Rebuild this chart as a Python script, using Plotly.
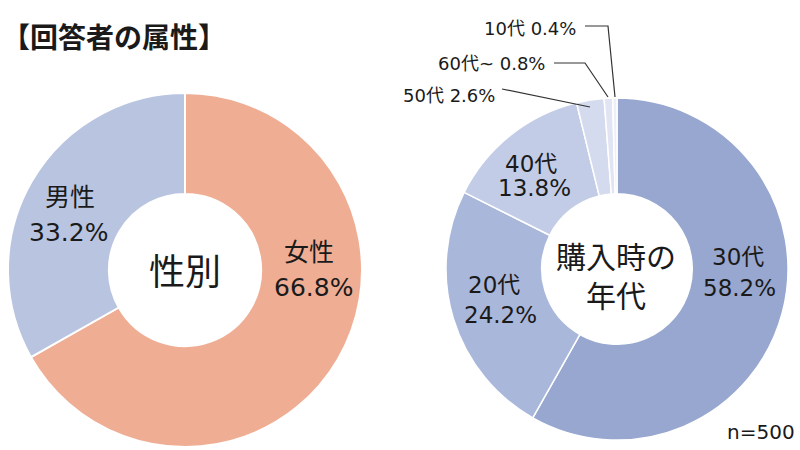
import plotly.graph_objects as go

# ---- data ----
gender_labels = ["女性", "男性"]
gender_values = [66.8, 33.2]
age_labels = ["30代", "20代", "40代", "50代", "60代~", "10代"]
age_values = [58.2, 24.2, 13.8, 2.6, 0.8, 0.4]
sample_n = 500

W, H = 800, 450
FONT = "DejaVu Sans, Noto Sans CJK JP"
CJK = "Noto Sans CJK JP"
TXT = "#1a1a1a"


def px(x):
    return x / W


def py(y):
    return 1 - y / H


gender_colors = ["#EFAD94", "#B8C4E0"]
age_colors = ["#97A7D0", "#A9B7DB", "#C3CCE6", "#D5DBEE", "#E1E5F3", "#ECEFF8"]

fig = go.Figure()
fig.add_trace(go.Pie(
    labels=gender_labels, values=gender_values, sort=False, direction="clockwise",
    rotation=0, hole=0.43, textinfo="none", hoverinfo="label+percent",
    marker=dict(colors=gender_colors, line=dict(color="white", width=2)),
    domain=dict(x=[px(8), px(362)], y=[py(447), py(93)]), showlegend=False,
))
fig.add_trace(go.Pie(
    labels=age_labels, values=age_values, sort=False, direction="clockwise",
    rotation=0, hole=0.44, textinfo="none", hoverinfo="label+percent",
    marker=dict(colors=age_colors, line=dict(color="white", width=1.5)),
    domain=dict(x=[px(446), px(788)], y=[py(440), py(98)]), showlegend=False,
))

annotations = []


def add_text(text, x, y, size, xanchor="center", bold=False, family=FONT):
    t = f"<b>{text}</b>" if bold else text
    annotations.append(dict(
        text=t, x=px(x), y=py(y), xref="paper", yref="paper",
        xanchor=xanchor, yanchor="middle", showarrow=False,
        font=dict(family=family, size=size, color=TXT),
    ))


def pct(v):
    return f"{v:.1f}%"


# title
add_text("【回答者の属性】", 0, 36, 28, xanchor="left", bold=True, family=CJK)

# gender labels
add_text(gender_labels[1], 70, 198, 25)
add_text(pct(gender_values[1]), 68, 232, 25)
add_text(gender_labels[0], 309, 252, 25)
add_text(pct(gender_values[0]), 313, 287, 25)
add_text("性別", 185, 269, 36, family=CJK)

# age labels
add_text(age_labels[0], 738, 257, 23)
add_text(pct(age_values[0]), 739, 288, 23)
add_text(age_labels[1], 494, 285, 23)
add_text(pct(age_values[1]), 500, 315, 23)
add_text(age_labels[2], 531, 164, 23)
add_text(pct(age_values[2]), 534, 188, 23)
add_text("購入時の<br>年代", 616, 274, 30, family=CJK)

add_text(f"{age_labels[3]} {pct(age_values[3])}", 497, 95, 18, xanchor="right")
add_text(f"{age_labels[4]} {pct(age_values[4])}", 547, 63, 18, xanchor="right")
add_text(f"{age_labels[5]} {pct(age_values[5])}", 578, 29, 18, xanchor="right")

add_text(f"n={sample_n}", 797, 432, 20, xanchor="right")

# leader lines
leader_paths = [
    [(502, 89), (590, 107)],
    [(554, 63), (585, 63), (608, 97)],
    [(585, 26), (608, 26), (615, 97)],
]
shapes = []
for pts in leader_paths:
    d = "M " + " L ".join(f"{px(x)},{py(y)}" for x, y in pts)
    shapes.append(dict(type="path", path=d, xref="paper", yref="paper",
                       line=dict(color="#333333", width=1.2)))

fig.update_layout(
    width=W, height=H, margin=dict(l=0, r=0, t=0, b=0),
    paper_bgcolor="white", plot_bgcolor="white",
    annotations=annotations, shapes=shapes,
    font=dict(family=FONT),
)

fig.write_html(
    "out.html",
    config={"displayModeBar": False},
    post_script="document.body.style.margin='0';document.body.style.overflow='hidden';",
)
